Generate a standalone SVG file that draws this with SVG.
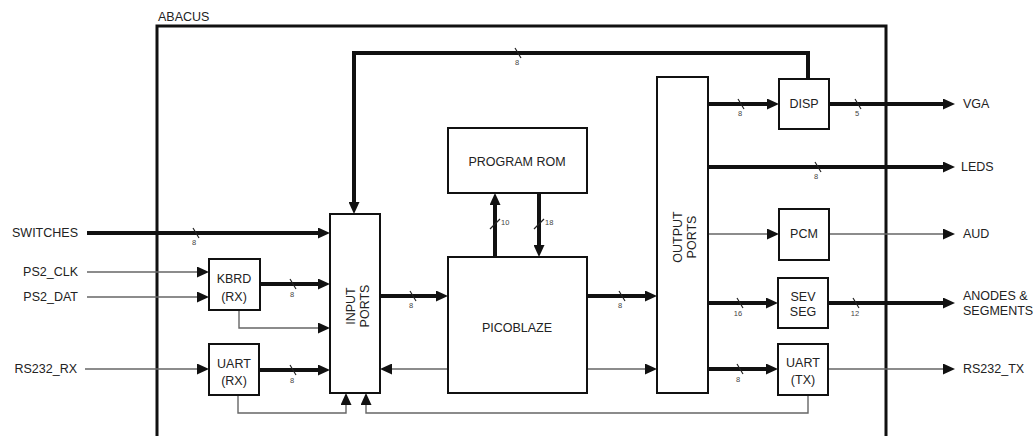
<svg xmlns="http://www.w3.org/2000/svg" width="1034" height="436" viewBox="0 0 1034 436">
<style>
text{font-family:"Liberation Sans",Arial,sans-serif;fill:#222}
.lbl{font-size:12.5px}
.box{fill:#fff;stroke:#111;stroke-width:2}
.thick{fill:none;stroke:#111;stroke-width:4}
.thin{fill:none;stroke:#666;stroke-width:1.4}
.sl{stroke:#222;stroke-width:1.2}
.bw{font-size:7.5px;fill:#444}
.c{text-anchor:middle}
</style>
<defs>
<marker id="ah" markerUnits="userSpaceOnUse" markerWidth="12" markerHeight="11" refX="2" refY="5.5" orient="auto">
<path d="M0,0 L12,5.5 L0,11 z" fill="#111"/>
</marker>
</defs>
<rect width="1034" height="436" fill="#fff"/>
<g id="abacus">
<path d="M157,440 V26 H886 V440" fill="none" stroke="#111" stroke-width="3"/>
<text class="lbl" x="158" y="21">ABACUS</text>
</g>
<g id="connectors">
<path class="thick" d="M808,79 V53 H354 V204" marker-end="url(#ah)"/>
<path class="thick" d="M87,233 H320" marker-end="url(#ah)"/>
<path class="thick" d="M260,284 H320" marker-end="url(#ah)"/>
<path class="thick" d="M259,370 H320" marker-end="url(#ah)"/>
<path class="thick" d="M380,296 H438" marker-end="url(#ah)"/>
<path class="thick" d="M587,296 H647" marker-end="url(#ah)"/>
<path class="thick" d="M495,257 V203" marker-end="url(#ah)"/>
<path class="thick" d="M539,193 V247" marker-end="url(#ah)"/>
<path class="thick" d="M708,104 H769" marker-end="url(#ah)"/>
<path class="thick" d="M829,104 H945" marker-end="url(#ah)"/>
<path class="thick" d="M708,167 H945" marker-end="url(#ah)"/>
<path class="thick" d="M708,303 H768" marker-end="url(#ah)"/>
<path class="thick" d="M828,303 H945" marker-end="url(#ah)"/>
<path class="thick" d="M708,369 H768" marker-end="url(#ah)"/>
<path class="thin" d="M87,272 H199" marker-end="url(#ah)"/>
<path class="thin" d="M87,297 H199" marker-end="url(#ah)"/>
<path class="thin" d="M239,310 V328 H320" marker-end="url(#ah)"/>
<path class="thin" d="M85,369 H199" marker-end="url(#ah)"/>
<path class="thin" d="M238,395 V413 H346 V403" marker-end="url(#ah)"/>
<path class="thin" d="M448,369 H390" marker-end="url(#ah)"/>
<path class="thin" d="M587,369 H647" marker-end="url(#ah)"/>
<path class="thin" d="M708,234 H769" marker-end="url(#ah)"/>
<path class="thin" d="M829,234 H945" marker-end="url(#ah)"/>
<path class="thin" d="M828,369 H945" marker-end="url(#ah)"/>
<path class="thin" d="M808,395 V413 H366 V403" marker-end="url(#ah)"/>
<g id="bus-widths">
<line class="sl" x1="515" y1="48" x2="521" y2="58"/><text class="bw c" x="517" y="65">8</text>
<line class="sl" x1="193" y1="228" x2="199" y2="238"/><text class="bw c" x="194" y="245">8</text>
<line class="sl" x1="290" y1="279" x2="296" y2="289"/><text class="bw c" x="292" y="297">8</text>
<line class="sl" x1="290" y1="365" x2="296" y2="375"/><text class="bw c" x="292" y="383">8</text>
<line class="sl" x1="410" y1="291" x2="416" y2="301"/><text class="bw c" x="411" y="308">8</text>
<line class="sl" x1="619" y1="291" x2="625" y2="301"/><text class="bw c" x="620" y="308">8</text>
<line class="sl" x1="490" y1="229" x2="500" y2="219"/><text class="bw" x="501" y="225">10</text>
<line class="sl" x1="534" y1="229" x2="544" y2="219"/><text class="bw" x="545" y="225">18</text>
<line class="sl" x1="738" y1="99" x2="744" y2="109"/><text class="bw c" x="740" y="116">8</text>
<line class="sl" x1="855" y1="99" x2="861" y2="109"/><text class="bw c" x="857" y="116">5</text>
<line class="sl" x1="815" y1="162" x2="821" y2="172"/><text class="bw c" x="816" y="179">8</text>
<line class="sl" x1="737" y1="298" x2="743" y2="308"/><text class="bw c" x="738" y="316">16</text>
<line class="sl" x1="853" y1="298" x2="859" y2="308"/><text class="bw c" x="855" y="316">12</text>
<line class="sl" x1="737" y1="364" x2="743" y2="374"/><text class="bw c" x="738" y="382">8</text>
</g>
</g>
<g id="io-labels" class="lbl">
<text x="78" y="237" text-anchor="end">SWITCHES</text>
<text x="78" y="276" text-anchor="end">PS2_CLK</text>
<text x="78" y="301" text-anchor="end">PS2_DAT</text>
<text x="77" y="373" text-anchor="end">RS232_RX</text>
<text x="963" y="108">VGA</text>
<text x="961" y="171">LEDS</text>
<text x="963" y="238">AUD</text>
<text x="963" y="300">ANODES &amp;</text>
<text x="963" y="315">SEGMENTS</text>
<text x="963" y="373">RS232_TX</text>
</g>
<g id="input-ports">
<rect class="box" x="330" y="214" width="50" height="179"/>
<text class="lbl c" transform="translate(356,306) rotate(-90)"><tspan x="0" y="-1">INPUT</tspan><tspan x="0" y="13">PORTS</tspan></text>
</g>
<g id="picoblaze">
<rect class="box" x="448" y="257" width="139" height="136"/>
<text class="lbl c" x="517" y="332">PICOBLAZE</text>
</g>
<g id="program-rom">
<rect class="box" x="448" y="128" width="139" height="65"/>
<text class="lbl c" x="517" y="166">PROGRAM ROM</text>
</g>
<g id="output-ports">
<rect class="box" x="657" y="77" width="51" height="316"/>
<text class="lbl c" transform="translate(682,237) rotate(-90)"><tspan x="0" y="0">OUTPUT</tspan><tspan x="0" y="14">PORTS</tspan></text>
</g>
<g id="disp">
<rect class="box" x="779" y="79" width="50" height="50"/>
<text class="lbl c" x="804" y="108">DISP</text>
</g>
<g id="pcm">
<rect class="box" x="779" y="209" width="50" height="51"/>
<text class="lbl c" x="804" y="238">PCM</text>
</g>
<g id="sev-seg">
<rect class="box" x="778" y="278" width="50" height="50"/>
<text class="lbl c" x="803" y="301">SEV</text>
<text class="lbl c" x="803" y="316">SEG</text>
</g>
<g id="uart-tx">
<rect class="box" x="778" y="344" width="50" height="51"/>
<text class="lbl c" x="803" y="367">UART</text>
<text class="lbl c" x="803" y="384">(TX)</text>
</g>
<g id="kbrd-rx">
<rect class="box" x="209" y="259" width="51" height="51"/>
<text class="lbl c" x="234" y="283">KBRD</text>
<text class="lbl c" x="234" y="301">(RX)</text>
</g>
<g id="uart-rx">
<rect class="box" x="209" y="344" width="50" height="51"/>
<text class="lbl c" x="234" y="368">UART</text>
<text class="lbl c" x="234" y="385">(RX)</text>
</g>
</svg>
